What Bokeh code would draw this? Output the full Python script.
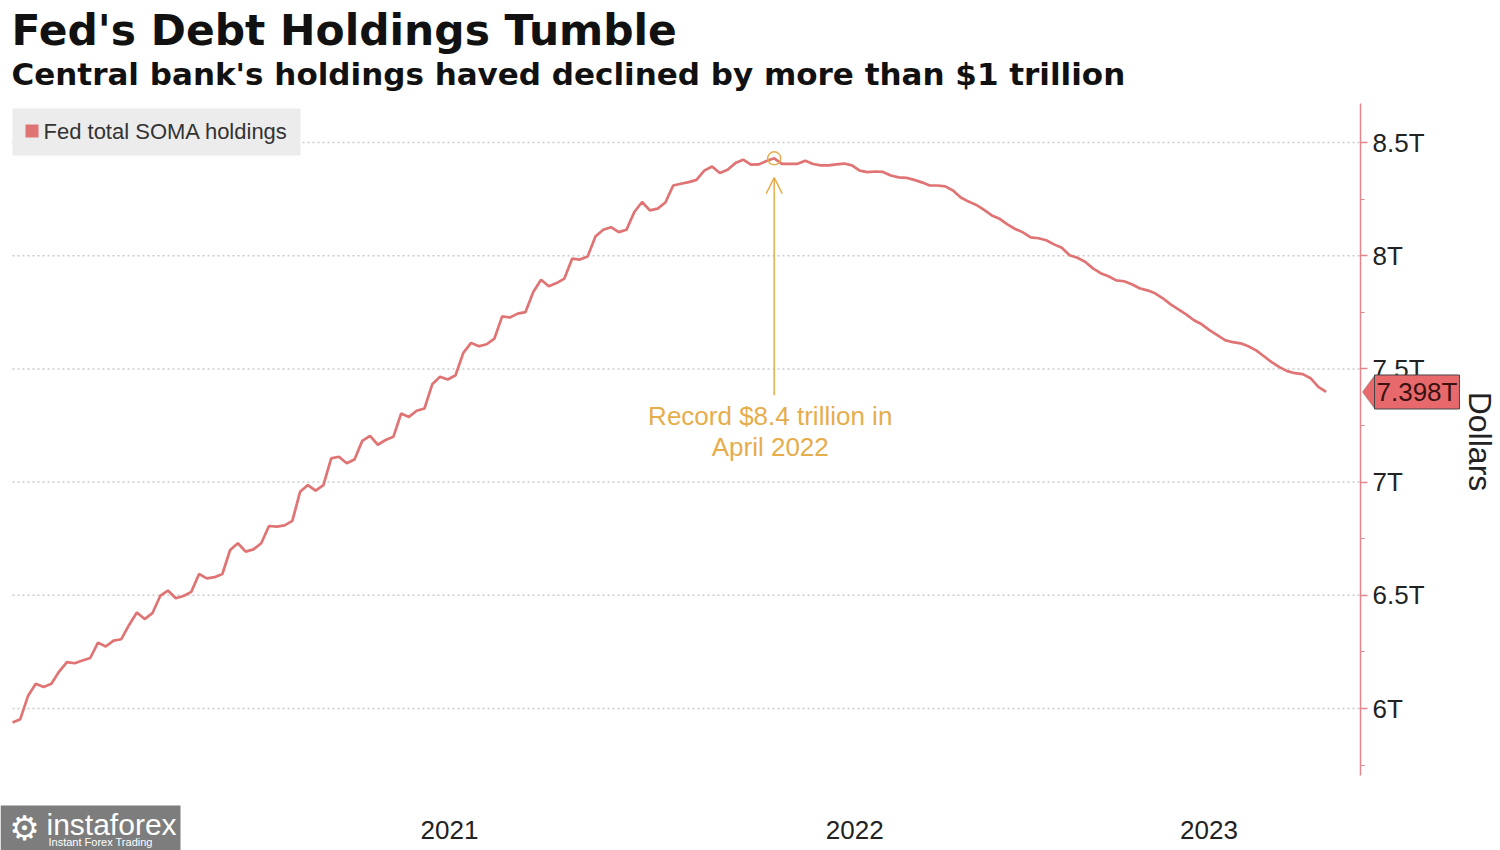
import math
import pandas as pd
from bokeh.plotting import figure
from bokeh.models import (Range1d, FixedTicker, CustomJSTickFormatter, Label, Arrow, OpenHead,
                          ColumnDataSource, PolyAnnotation, BoxAnnotation)
from bokeh.embed import file_html
from bokeh.resources import INLINE

# ---------------- data ----------------
title_text = "Fed's Debt Holdings Tumble"
subtitle_text = "Central bank's holdings haved declined by more than $1 trillion"
series_name = "Fed total SOMA holdings"
annotation_lines = ["Record $8.4 trillion in", "April 2022"]
axis_title = "Dollars"

start_date = "2020-06-04"   # weekly observations
soma_trillions = [
    5.938, 5.953, 6.056, 6.109, 6.095, 6.109, 6.163, 6.205, 6.200, 6.212,
    6.223, 6.291, 6.274, 6.300, 6.306, 6.369, 6.424, 6.395, 6.421, 6.497,
    6.521, 6.487, 6.497, 6.515, 6.594, 6.575, 6.580, 6.594, 6.700, 6.730,
    6.693, 6.703, 6.730, 6.806, 6.803, 6.809, 6.829, 6.957, 6.987, 6.962,
    6.987, 7.105, 7.112, 7.083, 7.100, 7.182, 7.204, 7.165, 7.186, 7.200,
    7.303, 7.288, 7.315, 7.325, 7.432, 7.465, 7.453, 7.472, 7.571, 7.615,
    7.600, 7.609, 7.634, 7.732, 7.727, 7.744, 7.751, 7.840, 7.894, 7.865,
    7.879, 7.899, 7.987, 7.983, 7.997, 8.085, 8.115, 8.126, 8.104, 8.115,
    8.193, 8.237, 8.200, 8.208, 8.235, 8.310, 8.318, 8.325, 8.335, 8.376,
    8.394, 8.365, 8.380, 8.409, 8.424, 8.402, 8.403, 8.418, 8.430, 8.406,
    8.406, 8.406, 8.419, 8.405, 8.399, 8.399, 8.403, 8.407, 8.399, 8.376,
    8.369, 8.372, 8.370, 8.354, 8.346, 8.344, 8.335, 8.324, 8.310, 8.310,
    8.306, 8.288, 8.257, 8.239, 8.224, 8.202, 8.178, 8.163, 8.138, 8.118,
    8.103, 8.081, 8.077, 8.068, 8.050, 8.035, 8.002, 7.991, 7.973, 7.944,
    7.923, 7.909, 7.891, 7.887, 7.874, 7.856, 7.847, 7.834, 7.812, 7.785,
    7.763, 7.741, 7.715, 7.697, 7.671, 7.649, 7.627, 7.618, 7.613, 7.600,
    7.582, 7.556, 7.530, 7.508, 7.490, 7.481, 7.477, 7.459, 7.421, 7.398,
]
y_ticks = [6.0, 6.5, 7.0, 7.5, 8.0, 8.5]
y_minor_ticks = [5.75, 6.25, 6.75, 7.25, 7.75, 8.25]

dates = pd.date_range(start_date, periods=len(soma_trillions), freq="7D")

# ---------------- styles / layout ----------------
RED = "#e07474"
AXIS_RED = "#e3868b"
TAG_RED = "#e8696b"
GOLD = "#e6ad4c"
GRID = "#c9c9c9"
TXT = "#222222"

W, H = 1500, 850
PLOT_L, PLOT_R, PLOT_T, PLOT_B = 12, 1360, 103, 775   # data area in page pixels
PX_PER_T = 226.4
REF_VAL, REF_PX = 8.5, 142


def ms(ts):
    return ts.value // 10**6


def val_at(py):
    return REF_VAL - (py - REF_PX) / PX_PER_T


def sy(py):  # page y -> screen y (from bottom)
    return H - py


x0 = ms(dates[0])
x1 = ms(dates[-1] + pd.Timedelta(days=31))
mpp = (x1 - x0) / (PLOT_R - PLOT_L)

p = figure(width=W, height=H, x_axis_type="datetime", y_axis_location="right",
           x_range=Range1d(x0 - PLOT_L * mpp, x0 + (W - PLOT_L) * mpp),
           y_range=Range1d(val_at(H), val_at(0)),
           output_backend="svg", toolbar_location=None, title=None, min_border=0)
p.outline_line_color = None
p.background_fill_color = "white"
p.border_fill_color = "white"
p.xgrid.visible = False
p.ygrid.visible = False

# ---- x axis: year labels centred in each year's visible span
start_ts = pd.Timestamp(x0, unit="ms")
end_ts = pd.Timestamp(x1, unit="ms")
xt = []
for yr in range(start_ts.year, end_ts.year + 1):
    a = max(start_ts, pd.Timestamp(yr, 1, 1))
    b = min(end_ts, pd.Timestamp(yr + 1, 1, 1))
    xt.append(ms(a + (b - a) / 2))
xa = p.xaxis[0]
xa.fixed_location = val_at(PLOT_B)
xa.ticker = FixedTicker(ticks=xt, minor_ticks=[])
xa.formatter = CustomJSTickFormatter(code="return String(new Date(tick).getUTCFullYear());")
xa.axis_line_color = None
xa.major_tick_line_color = None
xa.minor_tick_line_color = None
xa.major_label_text_font = "Liberation Sans"
xa.major_label_text_font_size = "26px"
xa.major_label_text_color = TXT
xa.major_label_standoff = 39

# ---- y axis at the right edge of the data area
ya = p.yaxis[0]
ya.fixed_location = x1
ya.bounds = (val_at(PLOT_B), val_at(PLOT_T))
ya.ticker = FixedTicker(ticks=y_ticks, minor_ticks=y_minor_ticks)
ya.formatter = CustomJSTickFormatter(
    code="return (Math.abs(tick % 1) < 1e-9 ? tick.toFixed(0) : tick.toFixed(1)) + 'T';")
ya.axis_line_color = AXIS_RED
ya.axis_line_width = 1.5
ya.major_tick_line_color = AXIS_RED
ya.major_tick_line_width = 1.5
ya.major_tick_in = 0
ya.major_tick_out = 7
ya.minor_tick_line_color = AXIS_RED
ya.minor_tick_in = 0
ya.minor_tick_out = 4
ya.major_label_text_font = "Liberation Sans"
ya.major_label_text_font_size = "26px"
ya.major_label_text_color = TXT
ya.major_label_standoff = 5

# ---- dotted grid lines across the data area
n = len(y_ticks)
p.segment(x0=[x0] * n, x1=[x1] * n, y0=y_ticks, y1=y_ticks,
          line_color=GRID, line_dash="2 3", line_width=1.5)

# ---- series
src = ColumnDataSource(dict(date=dates, value=soma_trillions))
p.line(x="date", y="value", source=src, line_color=RED, line_width=2.7)

# ---- legend (manual)
p.add_layout(BoxAnnotation(left=12, right=300, top=sy(108), bottom=sy(155),
                           left_units="screen", right_units="screen",
                           top_units="screen", bottom_units="screen",
                           fill_color="#ececec", fill_alpha=1.0, line_color=None))
p.add_layout(BoxAnnotation(left=25, right=38, top=sy(124), bottom=sy(137),
                           left_units="screen", right_units="screen",
                           top_units="screen", bottom_units="screen",
                           fill_color=RED, fill_alpha=1.0, line_color=None))
p.add_layout(Label(x=43, y=sy(131), x_units="screen", y_units="screen", text=series_name,
                   text_baseline="middle", text_font="Liberation Sans",
                   text_font_size="22px", text_color="#333333"))

# ---- record annotation
imax = max(range(len(soma_trillions)), key=lambda i: soma_trillions[i])
px_ = ms(dates[imax])
py_ = soma_trillions[imax]
p.scatter([px_], [py_], marker="circle", size=13, fill_color=None, line_color=GOLD, line_width=1.5)
p.add_layout(Arrow(end=OpenHead(size=16, line_color=GOLD, line_width=1.5),
                   x_start=px_, y_start=py_ - 1.046, x_end=px_, y_end=py_ - 0.085,
                   line_color=GOLD, line_width=1.5))
for txt, dy in zip(annotation_lines, [1.136, 1.277]):
    p.add_layout(Label(x=px_, y=py_ - dy, x_offset=-4, text=txt,
                       text_align="center", text_baseline="middle", text_color=GOLD,
                       text_font="Liberation Sans", text_font_size="26px"))

# ---- last value tag
last = soma_trillions[-1]
half = 16.5 / PX_PER_T
p.add_layout(PolyAnnotation(xs=[x1 + 2 * mpp, x1 + 14 * mpp, x1 + 14 * mpp],
                            ys=[last, last + half, last - half],
                            fill_color=TAG_RED, fill_alpha=1.0, line_color="#444444", line_width=1))
p.add_layout(Label(x=x1, y=last, x_offset=14, text=f"{last:.3f}T", text_align="left",
                   text_baseline="middle", text_color="#3a1212",
                   text_font="Liberation Sans", text_font_size="26px",
                   background_fill_color=TAG_RED, border_line_color="#444444", padding=2))

# ---- axis title
p.add_layout(Label(x=1479, y=sy(441), x_units="screen", y_units="screen", text=axis_title,
                   angle=-math.pi / 2, text_align="center", text_baseline="middle",
                   text_font="Liberation Sans", text_font_size="32px", text_color=TXT))

# ---- titles
p.add_layout(Label(x=11, y=sy(30), x_units="screen", y_units="screen", text=title_text,
                   text_font="DejaVu Sans", text_font_style="bold", text_font_size="42.4px",
                   text_color="#111111", text_baseline="middle"))
p.add_layout(Label(x=11, y=sy(73), x_units="screen", y_units="screen", text=subtitle_text,
                   text_font="DejaVu Sans", text_font_style="bold", text_font_size="31px",
                   text_color="#111111", text_baseline="middle"))

# ---- watermark box (bottom-left)
p.add_layout(BoxAnnotation(left=0, right=180, top=sy(805), bottom=0,
                           left_units="screen", right_units="screen",
                           top_units="screen", bottom_units="screen",
                           fill_color="#7d7d7d", fill_alpha=1.0, line_color=None))
p.add_layout(Label(x=24, y=sy(827), x_units="screen", y_units="screen", text="\u2699",
                   text_font="DejaVu Sans", text_font_size="34px", text_baseline="middle",
                   text_align="center", text_color="white"))
p.add_layout(Label(x=46, y=sy(824), x_units="screen", y_units="screen", text="instaforex",
                   text_font="Liberation Sans", text_font_size="30px",
                   text_color="white", text_baseline="middle"))
p.add_layout(Label(x=48, y=sy(841), x_units="screen", y_units="screen", text="Instant Forex Trading",
                   text_font="Liberation Sans", text_font_size="11px",
                   text_color="white", text_baseline="middle"))

open("out.html", "w").write(file_html(p, INLINE))
